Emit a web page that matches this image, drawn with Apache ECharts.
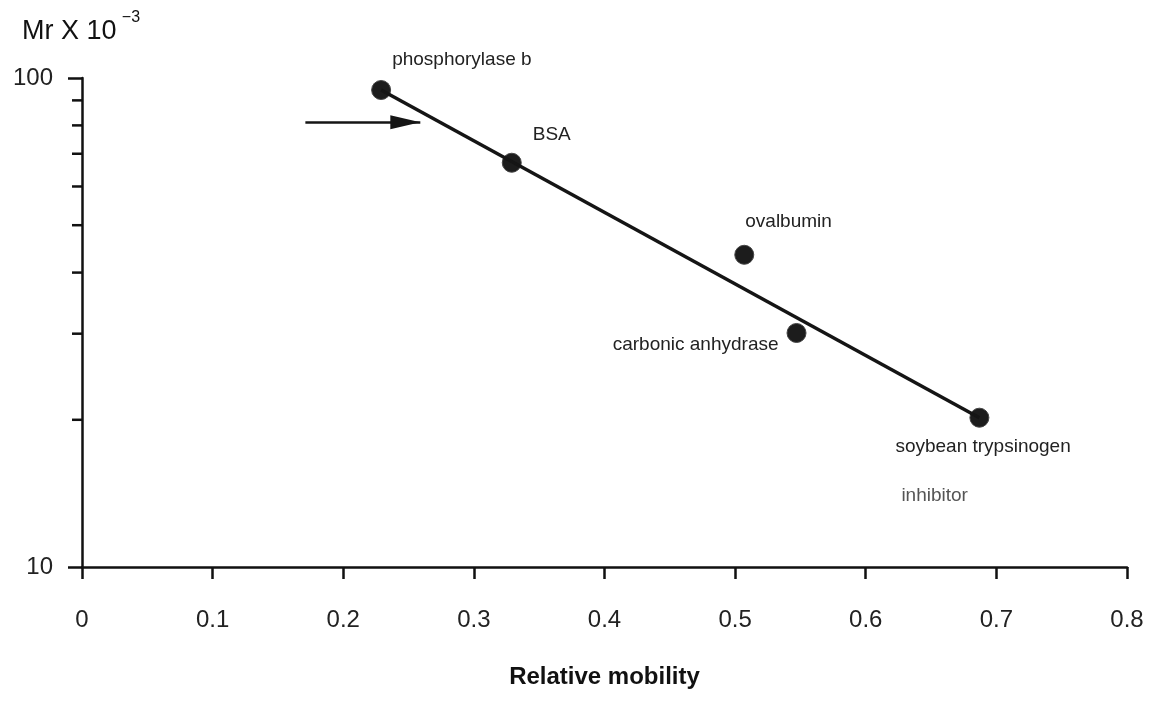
<!DOCTYPE html>
<html>
<head>
<meta charset="utf-8">
<script src="https://cdn.jsdelivr.net/npm/echarts@6/dist/echarts.min.js"></script>
<style>
  html, body { margin: 0; padding: 0; background: #fff; }
  #chart { width: 1150px; height: 716px; }
</style>
</head>
<body>
<div id="chart"></div>
<script>
// marker proteins: relative mobility vs Mr x 10^-3
var proteins = ['phosphorylase b', 'BSA', 'ovalbumin', 'carbonic anhydrase', 'soybean trypsinogen'];
var mobility = [0.229, 0.329, 0.507, 0.547, 0.687];
var mr = [94.5, 67.1, 43.5, 30.1, 20.2];

// fitted line end points
var fitX = [0.229, 0.687];
var fitY = [94.5, 20.2];

// arrow marking the unknown band
var arrowX = [0.171, 0.259];
var arrowY = 81.2;

var xTicks = [0, 0.1, 0.2, 0.3, 0.4, 0.5, 0.6, 0.7, 0.8];
var minorTicks = [20, 30, 40, 50, 60, 70, 80, 90];

var chart = echarts.init(document.getElementById('chart'));
var font = 'Liberation Sans, Arial, sans-serif';

// label placement for each point (offset from dot centre)
var labelCfg = [
    { offset: [11, -30], align: 'left' },
    { offset: [21, -28], align: 'left' },
    { offset: [1, -33], align: 'left' },
    { offset: [-18, 12], align: 'right' },
    { offset: [-84, 54], align: 'left' }
];

var points = mobility.map(function (x, i) {
    var item = { value: [x, mr[i]], name: proteins[i] };
    item.label = {
        show: true,
        position: 'inside',
        align: labelCfg[i].align,
        verticalAlign: 'middle',
        offset: labelCfg[i].offset,
        color: '#222',
        fontSize: 19,
        fontFamily: font,
        formatter: i === 4 ? '{a|soybean trypsinogen}\n{b|inhibitor}' : '{b}',
        rich: {
            a: { fontSize: 19, lineHeight: 49, color: '#222', fontFamily: font },
            b: { fontSize: 19, lineHeight: 49, color: '#555', fontFamily: font, padding: [0, 0, 0, 6] }
        }
    };
    return item;
});

// solid arrow head whose tip sits at the symbol centre
var arrowHead = 'path://M0,-30 L0.01,-30 Z M0,0 L7,30 L-7,30 Z';

var option = {
    animation: false,
    backgroundColor: '#fff',
    grid: { left: 82, right: 23, top: 78, bottom: 149 },
    xAxis: {
        type: 'value',
        min: 0,
        max: 0.8,
        interval: 0.1,
        name: 'Relative mobility',
        nameLocation: 'middle',
        nameGap: 98,
        nameTextStyle: { fontSize: 24, fontWeight: 'bold', color: '#111', fontFamily: font },
        axisLine: { lineStyle: { color: '#111', width: 2.5 } },
        axisTick: { length: 12, lineStyle: { color: '#111', width: 2.5 } },
        axisLabel: { margin: 41, fontSize: 24, color: '#222', fontFamily: font },
        splitLine: { show: false }
    },
    yAxis: {
        type: 'log',
        logBase: 10,
        min: 10,
        max: 100,
        name: '{m|Mr X 10} {s|−3}',
        nameLocation: 'end',
        nameGap: 24,
        nameTextStyle: {
            align: 'left',
            padding: [0, 0, 0, -60],
            rich: {
                m: { fontSize: 27, color: '#111', fontFamily: font },
                s: { fontSize: 16, color: '#111', fontFamily: font, verticalAlign: 'top', padding: [0, 0, 28, 2] }
            }
        },
        axisLine: { show: true, lineStyle: { color: '#111', width: 2.5 } },
        axisTick: { show: true, length: 14, lineStyle: { color: '#111', width: 2.5 } },
        axisLabel: { margin: 29, fontSize: 24, color: '#222', fontFamily: font },
        splitLine: { show: false }
    },
    series: [
        {
            type: 'line',
            data: fitX.map(function (x, i) { return [x, fitY[i]]; }),
            showSymbol: false,
            symbol: 'none',
            lineStyle: { color: '#151515', width: 3.5 },
            silent: true,
            markLine: {
                silent: true,
                symbol: ['none', arrowHead],
                symbolSize: [14, 60],
                label: { show: false },
                lineStyle: { color: '#151515', width: 2.5, type: 'solid' },
                data: [[{ coord: [arrowX[0], arrowY] }, { coord: [arrowX[1], arrowY] }]]
            }
        },
        {
            type: 'scatter',
            data: points,
            symbol: 'circle',
            symbolSize: 19,
            itemStyle: { color: '#1c1c1c', borderColor: '#444', borderWidth: 1, opacity: 1 },
            silent: true
        },
        {
            // minor ticks on the log axis (20..90)
            type: 'custom',
            silent: true,
            clip: false,
            data: minorTicks.map(function (v) { return [0, v]; }),
            renderItem: function (params, api) {
                var p = api.coord([api.value(0), api.value(1)]);
                return {
                    type: 'line',
                    shape: { x1: p[0] - 10, y1: p[1], x2: p[0], y2: p[1] },
                    style: { stroke: '#111', lineWidth: 2.5 }
                };
            }
        }
    ]
};

chart.setOption(option);
</script>
</body>
</html>
